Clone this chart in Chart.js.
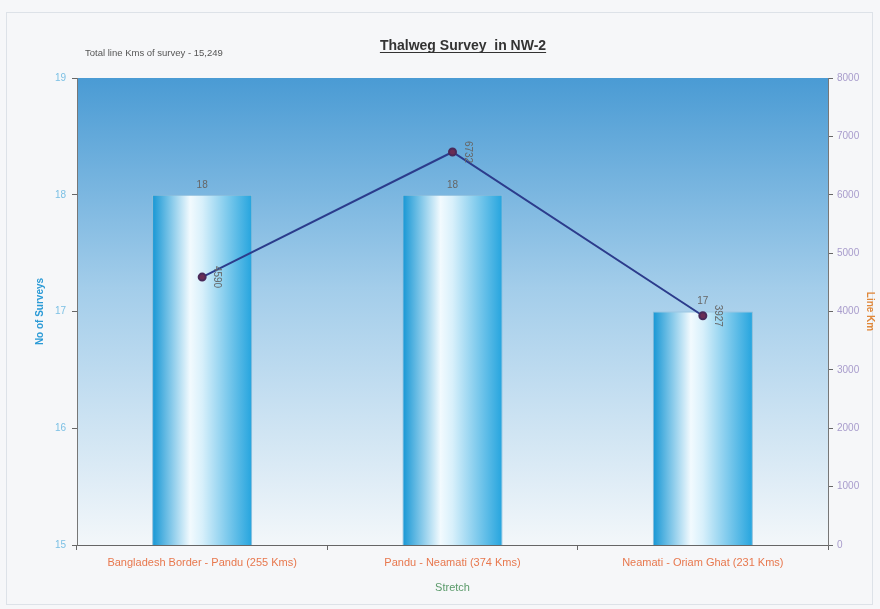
<!DOCTYPE html>
<html>
<head>
<meta charset="utf-8">
<script src="https://cdn.jsdelivr.net/npm/chart.js@4.4.1/dist/chart.umd.min.js"></script>
<style>
  html, body { margin: 0; padding: 0; background: #f6f7f9; }
  #wrap { position: relative; width: 880px; height: 609px; }
</style>
</head>
<body>
<div id="wrap"><canvas id="myChart" width="880" height="609"></canvas></div>
<script>
// stretches of the river surveyed
var stretches = ["Bangladesh Border - Pandu (255 Kms)", "Pandu - Neamati (374 Kms)", "Neamati - Oriam Ghat (231 Kms)"];
// number of surveys per stretch (left axis)
var surveys = [18, 18, 17];
// line km surveyed per stretch (right axis)
var lineKm = [4590, 6732, 3927];

var totalKm = lineKm.reduce(function (a, b) { return a + b; }, 0);
var font = "'Liberation Sans', Arial, sans-serif";
var BAR_PCT = 0.4;

/*---------------PLUGINS-------------------------- */
// plot area background and frame, title, note
var decor = {
    id: 'decor',
    beforeDraw: function (chart) {
        var c = chart.ctx, a = chart.chartArea;
        c.save();
        c.strokeStyle = '#dde2e8';
        c.lineWidth = 1;
        c.strokeRect(6.5, 12.5, 866, 592);
        var g = c.createLinearGradient(0, a.top, 0, a.bottom);
        g.addColorStop(0, '#4a9bd4');
        g.addColorStop(0.45, '#a3cdea');
        g.addColorStop(1, '#f3f7fa');
        c.fillStyle = g;
        c.fillRect(a.left, a.top, a.right - a.left, a.bottom - a.top);
        c.restore();
    },
    afterDraw: function (chart) {
        var c = chart.ctx;
        c.save();
        c.fillStyle = '#333';
        c.font = 'bold 14px ' + font;
        c.textAlign = 'center';
        c.textBaseline = 'alphabetic';
        var t = 'Thalweg Survey  in NW-2';
        c.fillText(t, 463, 50);
        var w = c.measureText(t).width;
        c.fillRect(463 - w / 2, 52, w, 1);
        c.fillStyle = '#555';
        c.font = '9.5px ' + font;
        c.textAlign = 'left';
        c.fillText('Total line Kms of survey - ' + totalKm.toLocaleString('en-US'), 85, 56);
        c.restore();
    }
};

// value labels on bars and line points
var valueLabels = {
    id: 'valueLabels',
    afterDatasetsDraw: function (chart) {
        var c = chart.ctx;
        c.save();
        c.fillStyle = '#666';
        c.font = '10px ' + font;
        chart.getDatasetMeta(0).data.forEach(function (bar, i) {
            c.textAlign = 'center';
            c.textBaseline = 'bottom';
            c.fillText(surveys[i], bar.x, bar.y - 5);
        });
        chart.getDatasetMeta(1).data.forEach(function (pt, i) {
            c.save();
            c.translate(pt.x + 10, pt.y);
            c.rotate(Math.PI / 2);
            c.textAlign = 'center';
            c.textBaseline = 'bottom';
            c.fillText(lineKm[i], 0, 0);
            c.restore();
        });
        c.restore();
    }
};

// horizontal cylinder-like shading for each bar
function barFill(context) {
    var chart = context.chart, xs = chart.scales.x;
    if (!chart.chartArea || !xs || xs.width == null) return '#3aa8dc';
    var cx = xs.getPixelForValue(context.dataIndex);
    var half = xs.width / stretches.length * BAR_PCT / 2;
    var g = chart.ctx.createLinearGradient(cx - half, 0, cx + half, 0);
    g.addColorStop(0, '#1596d4');
    g.addColorStop(0.38, '#f2fafe');
    g.addColorStop(0.5, '#d8f0fb');
    g.addColorStop(1, '#24a4de');
    return g;
}

/*---------------CHART-------------------------- */
var ctx = document.getElementById('myChart').getContext('2d');
var chart = new Chart(ctx, {
    type: 'bar',
    data: {
        labels: stretches,
        datasets: [{
            label: 'No of Surveys',
            data: surveys,
            yAxisID: 'y',
            backgroundColor: barFill,
            borderColor: '#8cbcd8',
            borderWidth: 1,
            barPercentage: BAR_PCT,
            categoryPercentage: 1,
            order: 1
        },
        {
            type: 'line',
            label: 'Line Km',
            data: lineKm,
            yAxisID: 'y1',
            borderColor: '#2c3c8c',
            borderWidth: 2,
            pointRadius: 3.5,
            pointBackgroundColor: '#6a2d55',
            pointBorderColor: '#4a2a5a',
            tension: 0,
            order: 0
        }]
    },
    options: {
        responsive: false,
        animation: false,
        layout: { padding: { left: 30, right: 0, top: 78, bottom: 14 } },
        plugins: {
            legend: { display: false },
            tooltip: { enabled: false }
        },
        scales: {
            x: {
                offset: true,
                grid: { offset: true, drawOnChartArea: false, tickLength: 5, color: '#666' },
                border: { color: '#666' },
                ticks: { color: '#e8784e', font: { family: font, size: 11 }, padding: 6, maxRotation: 0 },
                title: { display: true, text: 'Stretch', color: '#5a9a6a', font: { family: font, size: 11 }, padding: { top: 4, bottom: 0 } },
                afterFit: function (s) { s.height = 50; }
            },
            y: {
                position: 'left',
                min: 15, max: 19,
                ticks: { stepSize: 1, color: '#7cc0e4', font: { family: font, size: 10 }, padding: 6 },
                grid: { drawOnChartArea: false, tickLength: 5, color: '#666' },
                border: { color: '#777' },
                title: { display: true, text: 'No of Surveys', color: '#2a9ad6', font: { family: font, size: 10, weight: 'bold' }, padding: 4 },
                afterFit: function (s) { s.width = 47; }
            },
            y1: {
                position: 'right',
                min: 0, max: 8000,
                ticks: {
                    stepSize: 1000, color: '#a89ccc', font: { family: font, size: 10 }, padding: 4,
                    callback: function (v) { return String(v); }
                },
                grid: { drawOnChartArea: false, tickLength: 5, color: '#666' },
                border: { color: '#777' },
                title: { display: true, text: 'Line Km', color: '#e0883a', font: { family: font, size: 10, weight: 'bold' }, padding: 4 },
                afterFit: function (s) { s.width = 52; }
            }
        }
    },
    plugins: [decor, valueLabels]
});
</script>
</body>
</html>
